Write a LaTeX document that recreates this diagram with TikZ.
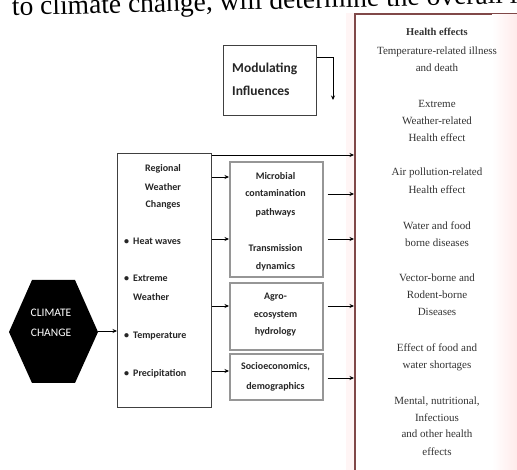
\documentclass[tikz,border=0pt]{standalone}
\usepackage{fontspec}
\setmainfont{Liberation Serif}
\newfontfamily\carlfont{Carlito}
\usetikzlibrary{arrows.meta}
\definecolor{hbord}{RGB}{128,72,72}
\definecolor{mbord}{RGB}{150,150,150}
\begin{document}
\begin{tikzpicture}[x=1pt,y=-1pt,
  arr/.style={-{Stealth[length=4.5pt,width=4pt]},line width=0.8pt},
  rect/.style={draw=black!75,line width=0.8pt,fill=white,inner sep=0pt,anchor=north west},
  mbox/.style={draw=mbord,line width=1.6pt,fill=white,inner sep=0pt,anchor=north west},
  ctext/.style={font=\carlfont\bfseries\fontsize{10}{12}\selectfont,inner sep=0pt,anchor=base,text=black!85},
  ltext/.style={font=\carlfont\bfseries\fontsize{10}{12}\selectfont,inner sep=0pt,anchor=base west,text=black!85},
  htext/.style={font=\fontsize{11}{13}\selectfont,inner sep=0pt,anchor=base,text=black!80}]
\useasboundingbox (0,0) rectangle (517,470);
\clip (0,0) rectangle (517,470);
\fill[white] (0,0) rectangle (517,470);
% health effects box
\fill[red!4] (346,13) rectangle (354,480);
\node[draw=hbord,line width=1.8pt,fill=white,inner sep=0pt,anchor=north west,minimum width=180,minimum height=480] (health) at (354,13) {};
\shade[left color=white,right color=red!8] (492,15) rectangle (517,480);
% top cropped line of text (slightly tilted in the scan)
\node[font=\fontsize{27.5}{30}\selectfont,inner sep=0pt,anchor=base west,rotate=1.4] (top) at (12,15.5) {to climate change, will determine the overall i};
\foreach \t/\y [count=\i] in {
  {Temperature-related illness}/55, {and death}/72,
  {Extreme}/108, {Weather-related}/125, {Health effect}/142,
  {Air pollution-related}/176, {Health effect}/194,
  {Water and food}/230, {borne diseases}/247,
  {Vector-borne and}/282, {Rodent-borne}/299, {Diseases}/316,
  {Effect of food and}/352, {water shortages}/369,
  {Mental, nutritional,}/405, {Infectious}/421, {and other health}/437, {effects}/455}
  \node[htext] (h\i) at (437,\y) {\t};
\node[htext,font=\bfseries\fontsize{10.5}{13}\selectfont] (h0) at (437,36) {Health effects};
% modulating influences
\node[rect,minimum width=93,minimum height=70] (mod) at (223,45) {};
\node[font=\carlfont\bfseries\fontsize{13.5}{16}\selectfont,inner sep=0pt,anchor=base west,text=black!85] (modt1) at (232,72.5) {Modulating};
\node[font=\carlfont\bfseries\fontsize{13.5}{16}\selectfont,inner sep=0pt,anchor=base west,text=black!85] (modt2) at (232,95.5) {Influences};
\coordinate (modend) at (333,100);
\draw[arr] (mod.east |- 0,57) -| (modend);
% climate change hexagon
\fill[black] (32,280) -- (75,280) -- (98,332) -- (75,383) -- (32,383) -- (9,332) -- cycle;
\coordinate (hexR) at (98,331);
\node[font=\carlfont\fontsize{11.5}{14}\selectfont,text=white,inner sep=0pt,anchor=base] (cc1) at (51,317) {CLIMATE};
\node[font=\carlfont\fontsize{11.5}{14}\selectfont,text=white,inner sep=0pt,anchor=base] (cc2) at (51,337) {CHANGE};
% regional weather box
\node[rect,minimum width=94,minimum height=254] (reg) at (117,153) {};
\node[ctext] (r1) at (163,172) {Regional};
\node[ctext] (r2) at (163,191) {Weather};
\node[ctext] (r3) at (163,208) {Changes};
\node[ltext] (r4) at (124,245) {\makebox[9pt][l]{\textbullet}Heat waves};
\node[ltext] (r5) at (124,282) {\makebox[9pt][l]{\textbullet}Extreme};
\node[ltext] (r6) at (133,301) {Weather};
\node[ltext] (r7) at (124,339) {\makebox[9pt][l]{\textbullet}Temperature};
\node[ltext] (r8) at (124,377) {\makebox[9pt][l]{\textbullet}Precipitation};
% middle boxes
\node[mbox,minimum width=93,minimum height=115] (mb1) at (229,161) {};
\node[mbox,minimum width=93,minimum height=67] (mb2) at (229,282) {};
\node[mbox,minimum width=93,minimum height=46] (mb3) at (229,353) {};
\node[ctext] (m1) at (275.5,180) {Microbial};
\node[ctext] (m2) at (275.5,197) {contamination};
\node[ctext] (m3) at (275.5,216) {pathways};
\node[ctext] (m4) at (275.5,252) {Transmission};
\node[ctext] (m5) at (275.5,270) {dynamics};
\node[ctext] (m6) at (275.5,300) {Agro-};
\node[ctext] (m7) at (275.5,318) {ecosystem};
\node[ctext] (m8) at (275.5,335) {hydrology};
\node[ctext] (m9) at (275.5,370) {Socioeconomics,};
\node[ctext] (m10) at (275.5,389) {demographics};
% connectors
\draw[arr] (hexR) -- (reg.west |- hexR);
\draw[arr] ([yshift=-2pt]reg.north east) -- (health.west |- 0,155);
\draw[arr] (reg.east |- 0,177) -- (mb1.west |- 0,177);
\draw[arr] (reg.east |- 0,239) -- (mb1.west |- 0,239);
\draw[arr] (reg.east |- 0,306) -- (mb2.west |- 0,306);
\draw[arr] (reg.east |- 0,371) -- (mb3.west |- 0,371);
\draw[arr] ([xshift=4pt]mb1.east |- 0,194) -- (health.west |- 0,194);
\draw[arr] ([xshift=4pt]mb1.east |- 0,239) -- (health.west |- 0,239);
\draw[arr] ([xshift=4pt]mb2.east |- 0,306) -- (health.west |- 0,306);
\draw[arr] ([xshift=4pt]mb3.east |- 0,378) -- (health.west |- 0,378);
\end{tikzpicture}
\end{document}
